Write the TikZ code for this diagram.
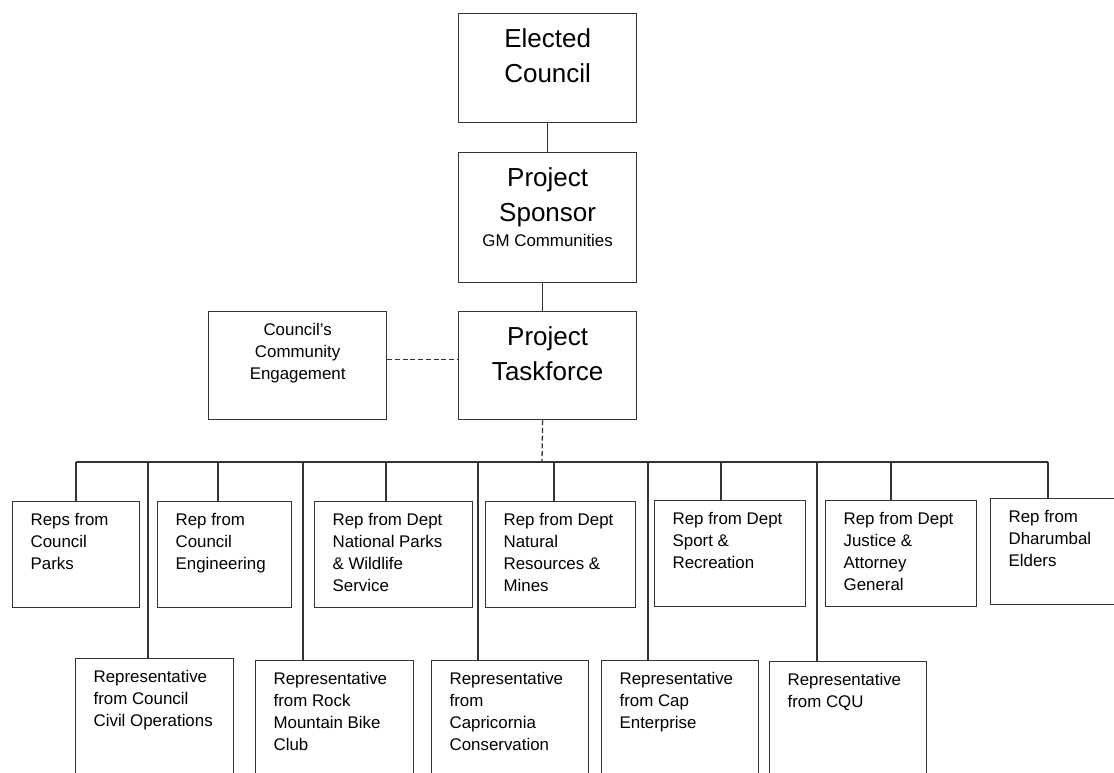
\documentclass[tikz,border=0pt]{standalone}
\usepackage{fontspec}
\setmainfont{Liberation Sans}

% one unit of the grid below
\newlength{\unitpx}
\setlength{\unitpx}{0.025cm}
% box contents: width, height, top gap, text
\newcommand{\lefttext}[4]{\parbox[t][#2\unitpx][t]{#1\unitpx}{\raggedright\leftskip=18\unitpx\vspace*{#3\unitpx}#4}}
\newcommand{\midtext}[4]{\parbox[t][#2\unitpx][t]{#1\unitpx}{\centering\vspace*{#3\unitpx}#4}}

\tikzset{
  orgbox/.style={draw=black!80, line width=0.9pt, anchor=north west, inner sep=0pt},
  head/.style={orgbox, font=\fontsize{18.5}{24.6}\selectfont},
  rep/.style={orgbox, font=\fontsize{12}{15.6}\selectfont},
  link/.style={draw=black!80, line width=0.9pt},
}

\begin{document}
\begin{tikzpicture}[x=0.025cm, y=-0.025cm]
  \useasboundingbox (0,0) rectangle (1114,773);
  \clip (0,0) rectangle (1114,773);

  % Nodes
  \node[head] (elected) at (458,13) {\midtext{178}{109}{15}{Elected\\Council}};
  \node[head] (sponsor) at (458,152) {\midtext{178}{130}{15}{Project\\Sponsor\\[-6.7pt]{\fontsize{12}{14}\selectfont GM Communities}}};
  \node[head] (taskforce) at (458,311) {\midtext{178}{108}{15}{Project\\Taskforce}};
  \node[rep] (engage) at (208,311) {\midtext{178}{108}{12}{Council's\\Community\\Engagement}};

  \node[rep] (parks) at (12,501) {\lefttext{127}{106}{12}{Reps from\\Council\\Parks}};
  \node[rep] (eng) at (157,501) {\lefttext{134}{106}{12}{Rep from\\Council\\Engineering}};
  \node[rep] (npws) at (314,501) {\lefttext{158}{106}{12}{Rep from Dept\\National Parks\\\& Wildlife\\Service}};
  \node[rep] (nrm) at (485,501) {\lefttext{150}{106}{12}{Rep from Dept\\Natural\\Resources \&\\Mines}};
  \node[rep] (sport) at (654,500) {\lefttext{151}{106}{12}{Rep from Dept\\Sport \&\\Recreation}};
  \node[rep] (justice) at (825,500) {\lefttext{151}{106}{12}{Rep from Dept\\Justice \&\\Attorney\\General}};
  \node[rep] (elders) at (990,498) {\lefttext{150}{106}{12}{Rep from\\Dharumbal\\Elders}};

  \node[rep] (civil) at (75,658) {\lefttext{158}{140}{12}{Representative\\from Council\\Civil Operations}};
  \node[rep] (rock) at (255,660) {\lefttext{158}{140}{12}{Representative\\from Rock\\Mountain Bike\\Club}};
  \node[rep] (capcon) at (431,660) {\lefttext{157}{140}{12}{Representative\\from\\Capricornia\\Conservation}};
  \node[rep] (capent) at (601,660) {\lefttext{157}{140}{12}{Representative\\from Cap\\Enterprise}};
  \node[rep] (cqu) at (769,661) {\lefttext{157}{140}{12}{Representative\\from CQU}};

  % Lines
  \coordinate (bus) at (542,462);
  \draw[link] (elected.south) -- (sponsor.north);
  \draw[link] ([xshift=-5\unitpx]sponsor.south) -- ([xshift=-5\unitpx]taskforce.north);
  \draw[link, dash pattern=on 3.5pt off 2pt] ([xshift=-5\unitpx]taskforce.south) -- (bus);
  \draw[link, dash pattern=on 3.5pt off 2pt] ([yshift=6\unitpx]engage.east) -- ([yshift=6\unitpx]taskforce.west);
  \draw[link] ([xshift=64\unitpx]parks.north west |- bus) -- ([xshift=58\unitpx]elders.north west |- bus);
  \foreach \n/\d in {parks/64, eng/61, npws/72, nrm/69, sport/67, justice/66, elders/58,
                     civil/73, rock/48, capcon/47, capent/47, cqu/48}
    \draw[link] ([xshift=\d\unitpx]\n.north west) -- ([xshift=\d\unitpx]\n.north west |- bus);
\end{tikzpicture}
\end{document}
